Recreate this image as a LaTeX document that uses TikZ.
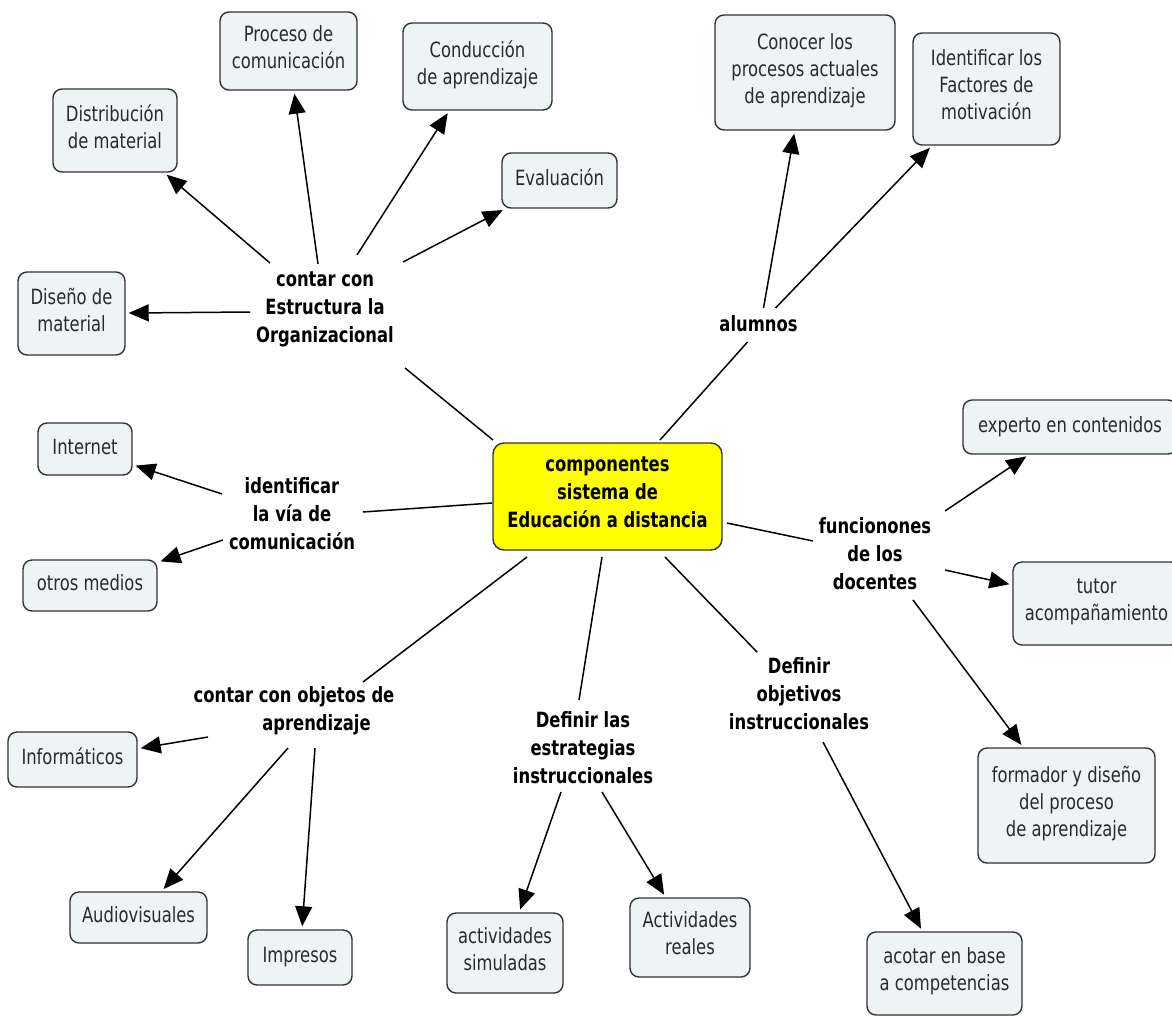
\documentclass[tikz,border=0pt]{standalone}
\usepackage{fontspec}
\setmainfont{DejaVu Sans}[FakeStretch=0.78]
\usetikzlibrary{arrows.meta}
\definecolor{boxfill}{HTML}{EEF3F5}
\definecolor{boxline}{HTML}{333333}
\definecolor{boxtext}{HTML}{2A2A2A}
\definecolor{hubfill}{HTML}{FFFF00}
\begin{document}
\begin{tikzpicture}[x=1pt,y=-1pt,
  concept/.style={draw=boxline, line width=1.4pt, fill=boxfill, rounded corners=9pt,
    align=center, text=boxtext, inner sep=0pt,
    font=\fontsize{21}{27}\selectfont,
    execute at begin node=\strut, execute at end node=\strut},
  boxsize/.style 2 args={minimum width=#1pt, minimum height=#2pt},
  hub/.style={draw=boxline, line width=1.4pt, fill=hubfill, rounded corners=11pt,
    align=center, text=black, inner sep=0pt,
    font=\fontsize{21}{28}\selectfont\bfseries,
    execute at begin node=\strut, execute at end node=\strut},
  phrase/.style={align=center, text=black, inner sep=0pt,
    font=\fontsize{21}{28}\selectfont\bfseries,
    execute at begin node=\strut, execute at end node=\strut},
  link/.style={draw=black, line width=1.5pt},
  arr/.style={link, shorten >=3pt, -{Triangle[length=20pt,width=17pt]}}
]
\fill[white] (0,0) rectangle (1172,1015);
\useasboundingbox (0,0) rectangle (1172,1015);

% central concept
\node[hub, boxsize={229}{107}] (ctr) at (607.5,496.5)
  {componentes\\sistema de\\Educación a distancia};

% linking phrases
\node[phrase] (estr)   at (325,311)   {contar con\\Estructura la\\Organizacional};
\node[phrase] (alum)   at (758.5,326) {alumnos};
\node[phrase] (ident)  at (292,517.5) {identificar\\la vía de\\comunicación};
\node[phrase] (func)   at (875,557.5) {funcionones\\de los\\docentes};
\node[phrase] (defobj) at (799,698)   {Definir\\objetivos\\instruccionales};
\node[phrase] (obj)    at (294,713)   {contar con objetos de\\\hspace*{45pt}aprendizaje};
\node[phrase] (estrat) at (583,752)   {Definir las\\estrategias\\instruccionales};

% concepts
\node[concept, boxsize={137}{78}]  (proc)  at (288.5,51)   {Proceso de\\comunicación};
\node[concept, boxsize={149}{87}]  (cond)  at (477.5,66.5) {Conducción\\de aprendizaje};
\node[concept, boxsize={115}{55}]  (eval)  at (559.5,180.5){Evaluación};
\node[concept, boxsize={124}{83}]  (dist)  at (115,130.5)  {Distribución\\de material};
\node[concept, boxsize={107}{83}]  (dis)   at (71.5,313.5) {Diseño de\\material};
\node[concept, boxsize={180}{115}] (conoc) at (805,72.5)   {Conocer los\\procesos actuales\\de aprendizaje};
\node[concept, boxsize={147}{112}] (motiv) at (986.5,89)   {Identificar los\\Factores de\\motivación};
\node[concept, boxsize={94}{52}]   (inet)  at (85,449)     {Internet};
\node[concept, boxsize={134}{51}]  (otros) at (90,585.5)   {otros medios};
\node[concept, boxsize={214}{54}]  (exp)   at (1070,427)   {experto en contenidos};
\node[concept, boxsize={167}{83}]  (tutor) at (1096.5,603.5) {tutor\\acompañamiento};
\node[concept, boxsize={177}{115}] (form)  at (1066.5,805.5) {formador y diseño\\del proceso\\de aprendizaje};
\node[concept, boxsize={155}{83}]  (acot)  at (944.5,973.5) {acotar en base\\a competencias};
\node[concept, boxsize={129}{55}]  (inf)   at (72.5,759.5) {Informáticos};
\node[concept, boxsize={137}{51}]  (aud)   at (138.5,917.5) {Audiovisuales};
\node[concept, boxsize={104}{55}]  (imp)   at (300,957.5)  {Impresos};
\node[concept, boxsize={116}{80}]  (sim)   at (505,953)    {actividades\\simuladas};
\node[concept, boxsize={120}{79}]  (real)  at (690,937.5)  {Actividades\\reales};

% hub to linking phrases
\draw[link] ([shift={(-114.5,-56.5)}]ctr.center) -- ([shift={(80,57)}]estr.center);
\draw[link] ([shift={(52.5,-56.5)}]ctr.center)  -- ([shift={(-11,16)}]alum.center);
\draw[link] ([shift={(-115.5,6.5)}]ctr.center)  -- ([shift={(71,-5.5)}]ident.center);
\draw[link] ([shift={(119.5,26.5)}]ctr.center)  -- ([shift={(-62,-16.5)}]func.center);
\draw[link] ([shift={(57.5,60.5)}]ctr.center)   -- ([shift={(-42,-46)}]defobj.center);
\draw[link] ([shift={(-5.5,60.5)}]ctr.center)   -- ([shift={(-4,-52)}]estrat.center);
\draw[link] ([shift={(-80.5,60.5)}]ctr.center)  -- ([shift={(69,-31)}]obj.center);

% linking phrases to concepts
\draw[arr] ([shift={(-75,1)}]estr.center)   -- (dis);
\draw[arr] ([shift={(-55,-48)}]estr.center) -- (dist);
\draw[arr] ([shift={(-7,-47)}]estr.center)  -- (proc);
\draw[arr] ([shift={(32,-56)}]estr.center)  -- (cond);
\draw[arr] ([shift={(78,-49)}]estr.center)  -- (eval);

\draw[arr] ([shift={(5,-18)}]alum.center)   -- (conoc);
\draw[arr] ([shift={(17,-18)}]alum.center)  -- (motiv);

\draw[arr] ([shift={(-70,-23.5)}]ident.center) -- (inet);
\draw[arr] ([shift={(-69,22.5)}]ident.center)  -- (otros);

\draw[arr] ([shift={(70,-46.5)}]func.center) -- (exp);
\draw[arr] ([shift={(70,12.5)}]func.center)  -- (tutor);
\draw[arr] ([shift={(38,42.5)}]func.center)  -- (form);

\draw[arr] ([shift={(24,44)}]defobj.center) -- (acot);

\draw[arr] ([shift={(-86,24)}]obj.center) -- (inf);
\draw[arr] ([shift={(-6,35)}]obj.center)  -- (aud);
\draw[arr] ([shift={(21,35)}]obj.center)  -- (imp);

\draw[arr] ([shift={(-22,40)}]estrat.center) -- (sim);
\draw[arr] ([shift={(19,40)}]estrat.center)  -- (real);
\end{tikzpicture}
\end{document}
